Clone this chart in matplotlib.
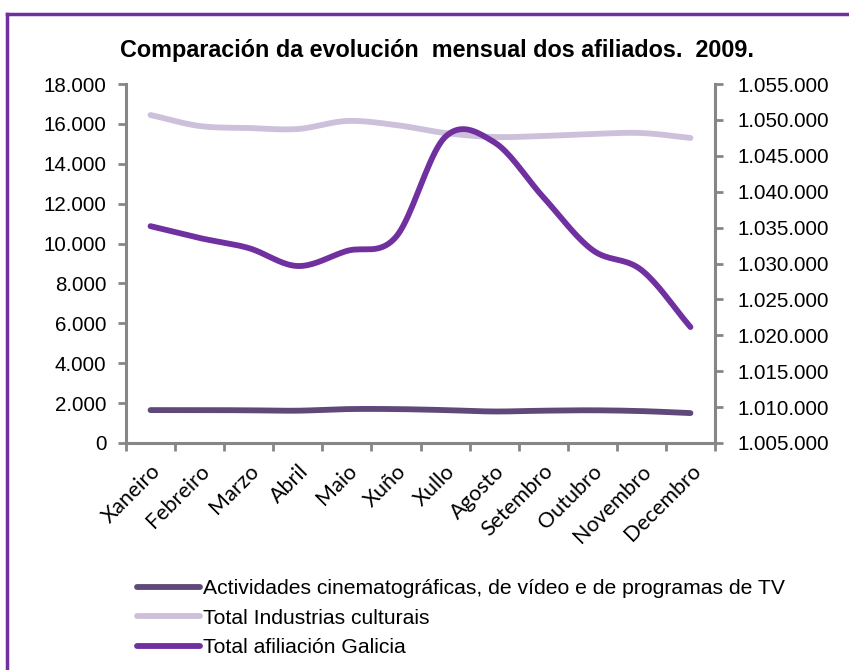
import numpy as np
import matplotlib
matplotlib.use("Agg")
import matplotlib.pyplot as plt
from matplotlib.lines import Line2D
from matplotlib.ticker import FuncFormatter

months = ["Xaneiro", "Febreiro", "Marzo", "Abril", "Maio", "Xuño", "Xullo",
          "Agosto", "Setembro", "Outubro", "Novembro", "Decembro"]
actividades = [1650, 1650, 1640, 1620, 1700, 1700, 1650, 1580, 1620, 1640, 1600, 1500]
industrias = [16446, 15894, 15794, 15744, 16145, 15944, 15543, 15343, 15393, 15493, 15543, 15293]
galicia = [1035200, 1033550, 1032150, 1029650, 1031750, 1033700, 1047600, 1046900,
           1039250, 1031900, 1029100, 1021150]

labels = ["Actividades cinematográficas, de vídeo e de programas de TV",
          "Total Industrias culturais",
          "Total afiliación Galicia"]
colors = ["#5F497A", "#CCC0DA", "#7030A0"]

title = "Comparación da evolución  mensual dos afiliados.  2009."


def smooth(y, n=20):
    """Catmull-Rom smoothing for display (Excel-like smoothed line)."""
    y = np.asarray(y, float)
    x = np.arange(len(y), dtype=float)
    p = np.concatenate([[2 * y[0] - y[1]], y, [2 * y[-1] - y[-2]]])
    xs, ys = [], []
    for i in range(len(y) - 1):
        p0, p1, p2, p3 = p[i], p[i + 1], p[i + 2], p[i + 3]
        m1 = (p2 - p0) / 2
        m2 = (p3 - p1) / 2
        t = np.linspace(0, 1, n, endpoint=(i == len(y) - 2))
        h00 = 2 * t**3 - 3 * t**2 + 1
        h10 = t**3 - 2 * t**2 + t
        h01 = -2 * t**3 + 3 * t**2
        h11 = t**3 - t**2
        xs.append(x[i] + t)
        ys.append(h00 * p1 + h10 * m1 + h01 * p2 + h11 * m2)
    return np.concatenate(xs), np.concatenate(ys)


W, H = 849, 670
fig = plt.figure(figsize=(W / 100, H / 100), dpi=100)
ax = fig.add_axes([126 / W, 1 - 443 / H, (715 - 126) / W, (443 - 84) / H])
ax2 = ax.twinx()

spine_c = "#868686"
lw = 4.2

xa, ya = smooth(actividades)
ax.plot(xa, ya, color=colors[0], lw=lw, solid_capstyle="round", zorder=3)
xi, yi = smooth(industrias)
ax.plot(xi, yi, color=colors[1], lw=lw, solid_capstyle="round", zorder=2)
xg, yg = smooth(galicia)
ax2.plot(xg, yg, color=colors[2], lw=lw, solid_capstyle="round", zorder=3)

ax.set_xlim(-0.5, len(months) - 0.5)
ax.set_ylim(0, 18000)
ax.set_yticks(np.arange(0, 18001, 2000))
ax2.set_ylim(1005000, 1055000)
ax2.set_yticks(np.arange(1005000, 1055001, 5000))


def thou(v, pos):
    return f"{int(round(v)):,}".replace(",", ".")


ax.yaxis.set_major_formatter(FuncFormatter(thou))
ax2.yaxis.set_major_formatter(FuncFormatter(thou))

ax.set_xticks(np.arange(-0.5, len(months), 1.0))
ax.set_xticklabels([])
ax.set_xticks(np.arange(len(months)), minor=True)
ax.set_xticklabels(months, minor=True, rotation=45, ha="right",
                   rotation_mode="anchor", fontsize=15.5, family="Lato")
ax.tick_params(axis="x", which="minor", length=0, pad=13)
ax.tick_params(axis="x", which="major", length=6, width=2, color=spine_c, direction="out")

for a in (ax, ax2):
    for s in a.spines.values():
        s.set_color(spine_c)
        s.set_linewidth(2.2)
    a.spines["top"].set_visible(False)
ax2.spines["left"].set_visible(False)
ax2.spines["bottom"].set_visible(False)
ax.spines["right"].set_visible(False)

ax.tick_params(axis="y", length=6, width=2, color=spine_c, labelsize=14.8, pad=8)
ax2.tick_params(axis="y", length=6, width=2, color=spine_c, labelsize=14.8, pad=10)
for t in ax.get_yticklabels() + ax2.get_yticklabels():
    t.set_family("Liberation Sans")

fig.text(437 / W, 1 - 50 / H, title, ha="center", va="center",
         fontsize=16.8, fontweight="bold", family="Liberation Sans")

handles = [Line2D([], [], color=c, lw=lw, solid_capstyle="round") for c in colors]
fig.legend(handles, labels, loc="upper left", bbox_to_anchor=(118 / W, 1 - 560 / H),
           frameon=False, handlelength=3.0, handletextpad=0.12, labelspacing=0.5,
           prop={"family": "Liberation Sans", "size": 15.2})

# purple frame
fig.add_artist(Line2D([7 / W, 1.0], [1 - 14 / H, 1 - 14 / H], transform=fig.transFigure,
                      color="#7030A0", lw=2.5))
fig.add_artist(Line2D([7 / W, 7 / W], [0, 1 - 14 / H], transform=fig.transFigure,
                      color="#7030A0", lw=2.5))

fig.savefig("out.png", dpi=100)
